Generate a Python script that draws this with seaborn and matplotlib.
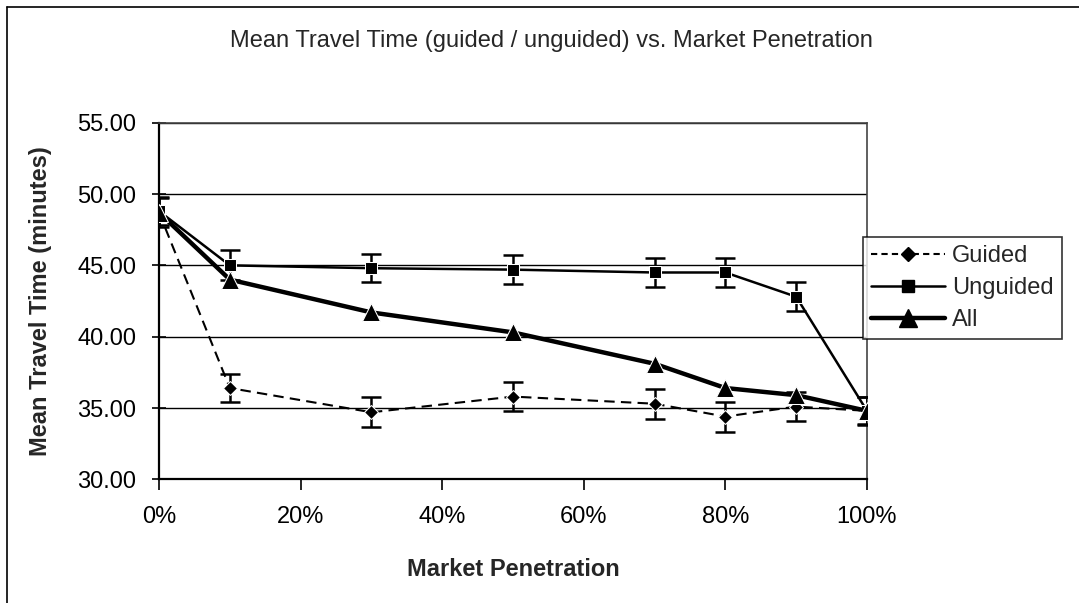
import numpy as np
import pandas as pd
import matplotlib
matplotlib.use("Agg")
import matplotlib.pyplot as plt
from matplotlib.lines import Line2D
import seaborn as sns

# --- datos ---
penetration = [0, 10, 30, 50, 70, 80, 90, 100]
guided = [48.7, 36.4, 34.7, 35.8, 35.3, 34.4, 35.1, 34.8]
unguided = [48.8, 45.0, 44.8, 44.7, 44.5, 44.5, 42.8, 34.8]
all_vehicles = [48.7, 44.0, 41.7, 40.3, 38.1, 36.4, 35.9, 34.8]
guided_err = [1.0, 1.0, 1.05, 1.0, 1.05, 1.05, 1.0, 1.0]
unguided_err = [1.0, 1.05, 1.0, 1.0, 1.0, 1.0, 1.0, 0.95]
x_ticks = [0, 20, 40, 60, 80, 100]
y_ticks = [30, 35, 40, 45, 50, 55]

FS = 17  # tamano de letra

sns.set_style("white")
plt.rcParams["font.family"] = ["Liberation Sans", "DejaVu Sans"]

df = pd.DataFrame({"x": penetration, "Guided": guided,
                   "Unguided": unguided, "All": all_vehicles})

fig = plt.figure(figsize=(10.79, 6.03), dpi=100)
ax = fig.add_axes([0.1474, 0.2051, 0.6561, 0.5914])

# --- lineas ---
sns.lineplot(data=df, x="x", y="Guided", ax=ax, color="black", lw=1.5,
             linestyle=(0, (5, 3)), marker="D", markersize=7.5, zorder=4)
sns.lineplot(data=df, x="x", y="Unguided", ax=ax, color="black", lw=1.8,
             marker="s", markersize=8.5, zorder=4)
sns.lineplot(data=df, x="x", y="All", ax=ax, color="black", lw=3.2,
             marker="^", markersize=13, zorder=5)

# barras de error
ax.errorbar(penetration, guided, yerr=guided_err, fmt="none", ecolor="black",
            elinewidth=1.8, capsize=7, capthick=1.8, zorder=3)
ax.errorbar(penetration, unguided, yerr=unguided_err, fmt="none", ecolor="black",
            elinewidth=1.8, capsize=7, capthick=1.8, zorder=3)

# --- ejes ---
ax.set_xlim(0, 100)
ax.set_ylim(30, 55)
ax.set_xticks(x_ticks)
ax.set_xticklabels([f"{t}%" for t in x_ticks])
ax.set_yticks(y_ticks)
ax.set_yticklabels([f"{t:.2f}" for t in y_ticks])
ax.yaxis.grid(True, color="black", lw=1.0)
ax.set_axisbelow(True)
ax.tick_params(axis="x", direction="out", length=8, width=1.2, pad=11,
               labelsize=FS, colors="black", bottom=True)
ax.tick_params(axis="y", direction="inout", length=10, width=1.2, pad=11.5,
               labelsize=FS, colors="black", left=True)
for s in ["left", "bottom"]:
    ax.spines[s].set_color("black")
    ax.spines[s].set_linewidth(1.6)
for s in ["top", "right"]:
    ax.spines[s].set_color("#444444")
    ax.spines[s].set_linewidth(1.2)

ax.set_xlabel("Market Penetration", fontsize=FS, fontweight="bold")
ax.set_ylabel("Mean Travel Time (minutes)", fontsize=FS, fontweight="bold")
ax.xaxis.set_label_coords(0.5, -0.221)
ax.yaxis.set_label_coords(-0.151, 0.5)

fig.text(0.511, 0.932, "Mean Travel Time (guided / unguided) vs. Market Penetration",
         ha="center", va="center", fontsize=FS)

# --- leyenda ---
handles = [
    Line2D([], [], color="black", lw=1.5, linestyle=(0, (3, 2)), marker="D", markersize=7.5),
    Line2D([], [], color="black", lw=1.8, marker="s", markersize=8.5),
    Line2D([], [], color="black", lw=3.2, marker="^", markersize=13),
]
leg = fig.legend(handles, ["Guided", "Unguided", "All"], loc="upper left",
                 bbox_to_anchor=(0.800, 0.607), fontsize=FS, frameon=True,
                 fancybox=False, edgecolor="black", handlelength=3.1,
                 handletextpad=0.3, borderpad=0.35, labelspacing=0.42,
                 borderaxespad=0)
leg.get_frame().set_linewidth(1.2)

# borde del area del grafico (solo arriba e izquierda visibles)
fig.add_artist(Line2D([0.0065, 1.0], [0.988, 0.988], color="black", lw=1.2))
fig.add_artist(Line2D([0.0065, 0.0065], [0.0, 0.988], color="black", lw=1.2))

fig.savefig("out.png", dpi=100)
